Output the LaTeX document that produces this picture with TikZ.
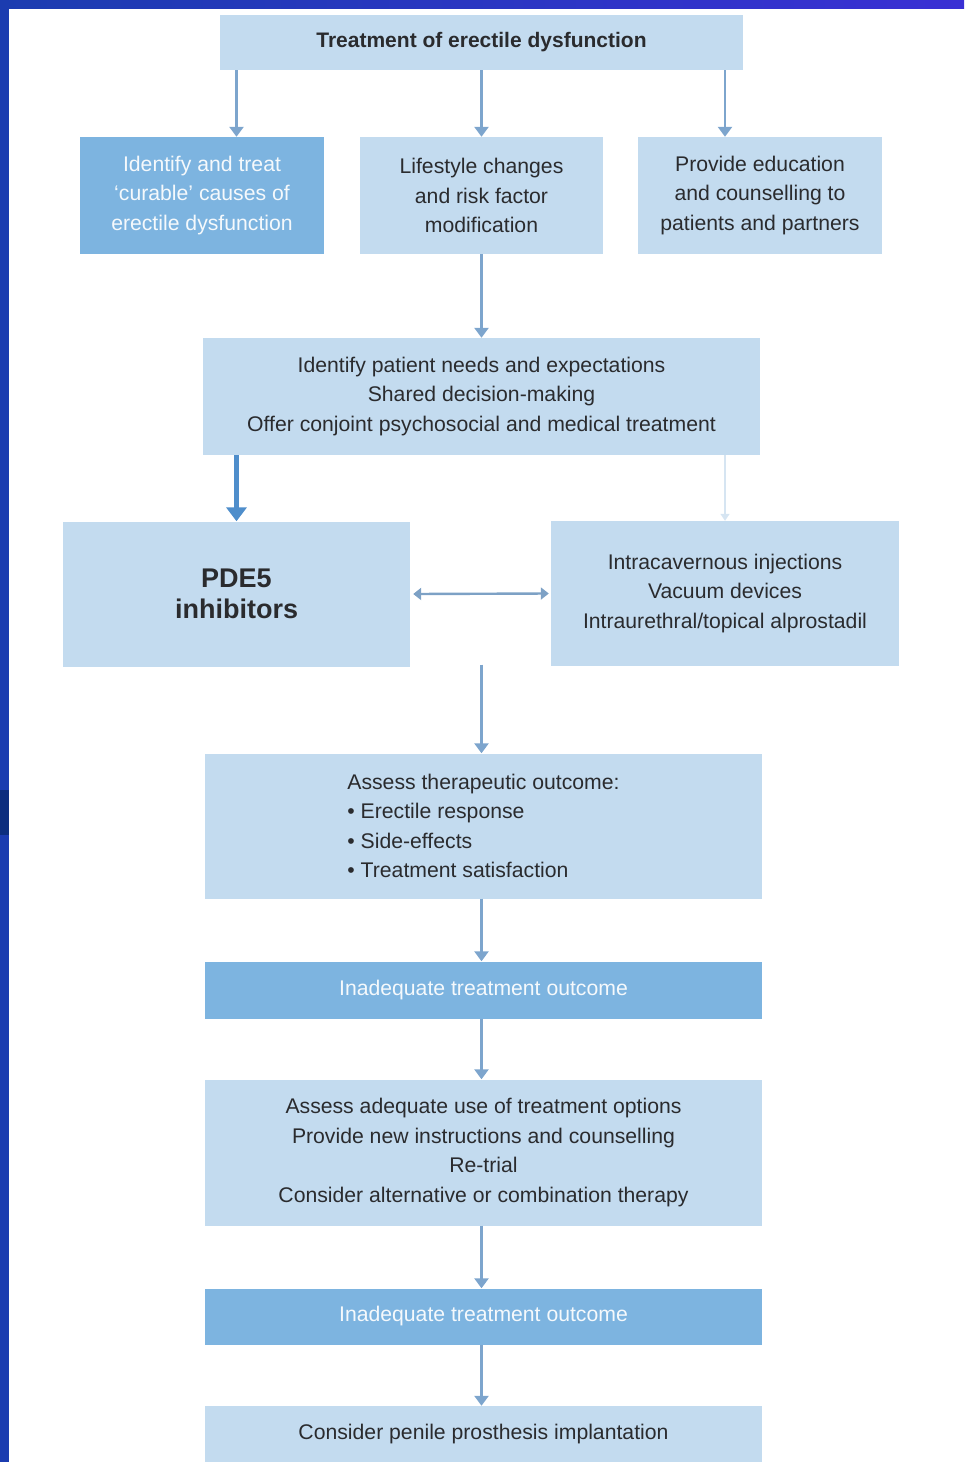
\documentclass[tikz,border=0pt]{standalone}
\usepackage{fontspec}
\setmainfont{Liberation Sans}
\usetikzlibrary{positioning, arrows.meta}
\definecolor{boxLight}{HTML}{C3DBEF}
\definecolor{boxDark}{HTML}{7DB4E0}
\definecolor{flowBlue}{HTML}{7DA5CD}
\definecolor{flowStrong}{HTML}{4F8ECB}
\definecolor{flowFaint}{HTML}{D6E5F2}
\definecolor{frameBlue}{HTML}{1B3CB0}
\definecolor{framePurple}{HTML}{3A30D4}
\definecolor{frameDeep}{HTML}{0C2E7E}
\definecolor{inkDark}{HTML}{2A2B2E}

\begin{document}
\begin{tikzpicture}[
  x=1pt, y=-1pt,
  stepbox/.style={fill=boxLight, inner sep=0pt, align=center, text=inkDark,
    font=\fontsize{21.2}{29.6}\selectfont},
  darkbox/.style={stepbox, fill=boxDark, text=white!92!boxDark},
  flow/.style={draw=flowBlue, line width=2.8pt, -{Triangle[width=14pt,length=10pt]}},
  flowthick/.style={draw=flowStrong, line width=4.5pt, -{Triangle[width=20pt,length=14pt]}},
  flowfaint/.style={draw=flowFaint, line width=1.6pt, -{Triangle[width=9pt,length=7pt]}},
  flowboth/.style={draw=flowBlue!90!gray, line width=2.4pt,
    {Triangle[width=12pt,length=8pt]}-{Triangle[width=12pt,length=8pt]}}
]
  \useasboundingbox (0,0) rectangle (964,1462);

  %% --- cornice della diapositiva ---
  \shade[left color=frameBlue, right color=framePurple] (0,0) rectangle (964,8);
  \fill[frameBlue] (0,0) rectangle (9,1462);
  \fill[frameDeep] (0,790) rectangle (9,835);

  %% --- geometria (unita': px) ---
  \def\wide{557}   % larghezza dei blocchi centrali
  \def\xmid{483.5} % asse dei blocchi centrali

  %% --- livello superiore ---
  \node[stepbox, minimum width=523, minimum height=55, font=\fontsize{21}{24}\selectfont\bfseries]
    (top) at (481.5,42.5) {Treatment of erectile dysfunction};

  \node[darkbox, minimum width=244, minimum height=117] (cure) at (202,195.5)
    {Identify and treat\\`curable' causes of\\erectile dysfunction};
  \node[stepbox, minimum width=243, minimum height=117] (life) at (481.5,195.5)
    {Lifestyle changes\\and risk factor\\modification};
  \node[stepbox, minimum width=244, minimum height=117] (edu) at (760,195.5)
    {Provide education\\and counselling to\\patients and partners};

  \node[stepbox, minimum width=\wide, minimum height=117] (needs) at (481.5,396.5)
    {Identify patient needs and expectations\\Shared decision-making\\Offer conjoint psychosocial and medical treatment};

  %% --- opzioni terapeutiche ---
  \node[stepbox, minimum width=347, minimum height=145, font=\fontsize{27}{31}\selectfont\bfseries]
    (pde) at (236.5,594) {PDE5\\inhibitors};
  \node[stepbox, minimum width=348, minimum height=145] (alt) at (725,593.5)
    {Intracavernous injections\\Vacuum devices\\Intraurethral/topical alprostadil};

  %% --- valutazione e percorso successivo ---
  \node[stepbox, minimum width=\wide, minimum height=145, align=left] (assess) at (\xmid,826)
    {Assess therapeutic outcome:\\\textbullet\ Erectile response\\\textbullet\ Side-effects\\\textbullet\ Treatment satisfaction};
  \node[darkbox, minimum width=\wide, minimum height=57] (inad1) at (\xmid,990)
    {Inadequate treatment outcome};
  \node[stepbox, minimum width=\wide, minimum height=146] (adeq) at (\xmid,1152.5)
    {Assess adequate use of treatment options\\Provide new instructions and counselling\\Re-trial\\Consider alternative or combination therapy};
  \node[darkbox, minimum width=\wide, minimum height=56] (inad2) at (\xmid,1316.5)
    {Inadequate treatment outcome};
  \node[stepbox, minimum width=\wide, minimum height=57] (pros) at (\xmid,1434.5)
    {Consider penile prosthesis implantation};

  %% --- connettori ---
  \draw[flow] (top.south -| pde) -- (cure.north -| pde);
  \draw[flow] (top.south -| life) -- (life.north);
  \draw[flow] (top.south -| alt) -- (edu.north -| alt);
  \draw[flow] (life.south) -- (needs.north);
  \draw[flowthick] (needs.south -| pde) -- (pde.north);
  \draw[flowfaint] (needs.south -| alt) -- (alt.north);
  \draw[flowboth] ([xshift=3pt]pde.east) -- ([xshift=-2pt]alt.west);
  \draw[flow] ([yshift=2pt]pde.south -| life) -- (assess.north -| life);
  \foreach \from/\to in {assess/inad1, inad1/adeq, adeq/inad2, inad2/pros} {
    \draw[flow] (\from.south -| life) -- (\to.north -| life);
  }
\end{tikzpicture}
\end{document}
